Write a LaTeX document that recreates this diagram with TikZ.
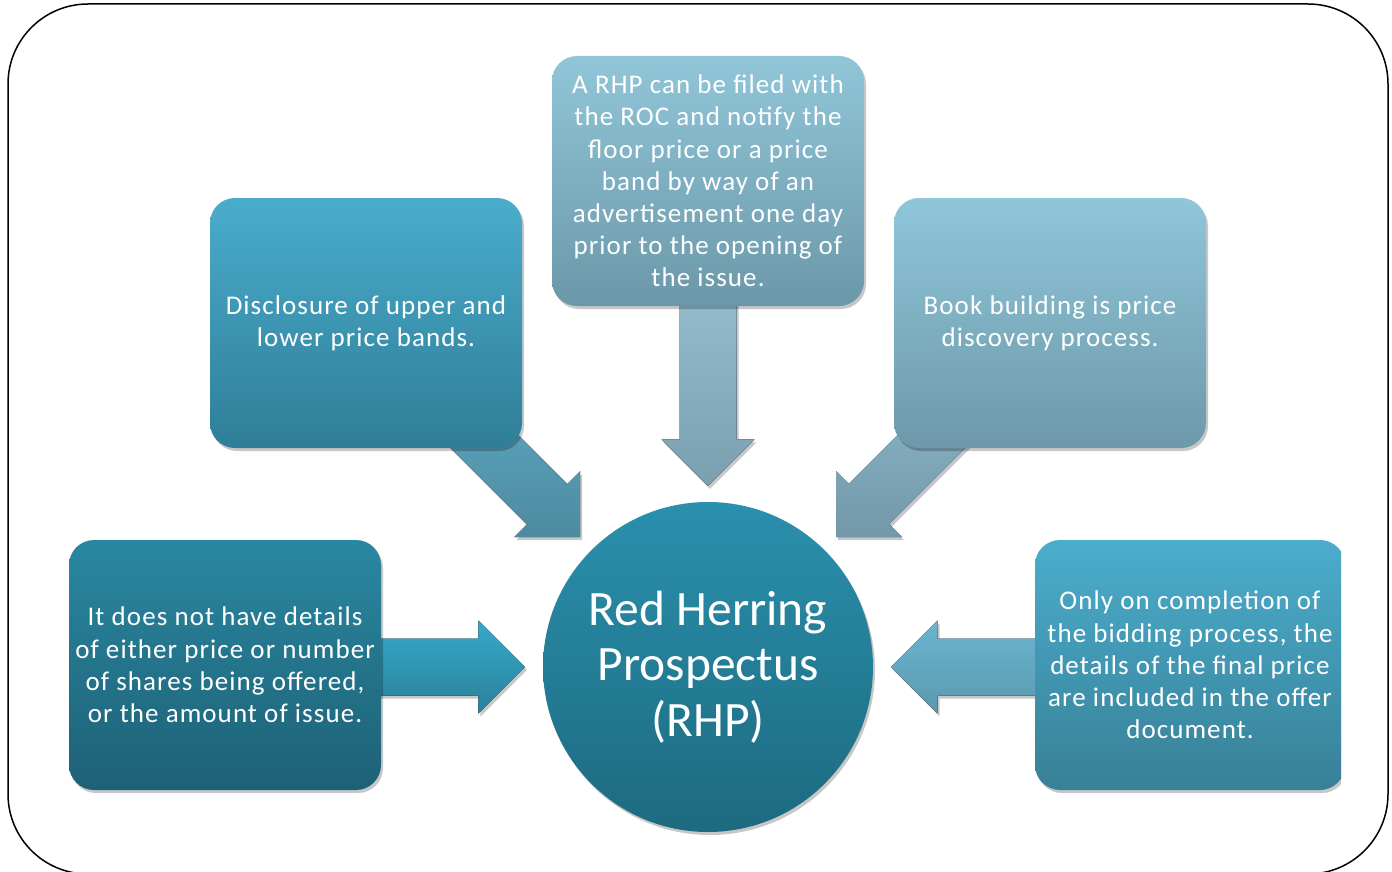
\documentclass[tikz,border=0pt]{standalone}
\usepackage{fontspec}
\setmainfont{Carlito}
\newfontfamily\boxfont[LetterSpace=4]{Carlito}
\usetikzlibrary{calc,shadows}
\pgfdeclarelayer{bg}
\pgfsetlayers{bg,main}
\definecolor{bAt}{HTML}{4AACCC}\definecolor{bAb}{HTML}{2F7E97}
\definecolor{bBt}{HTML}{90C6D8}\definecolor{bBb}{HTML}{6B98A9}
\definecolor{bCt}{HTML}{8FC6D9}\definecolor{bCb}{HTML}{6D99AA}
\definecolor{bDt}{HTML}{2A87A1}\definecolor{bDb}{HTML}{1D6176}
\definecolor{bEt}{HTML}{4BADCC}\definecolor{bEb}{HTML}{388097}
\definecolor{cT}{HTML}{2A90AD}\definecolor{cB}{HTML}{1D6A80}
\definecolor{aLt}{HTML}{35AACD}\definecolor{aLb}{HTML}{2B8099}
\definecolor{aAt}{HTML}{5BA8C2}\definecolor{aAb}{HTML}{4E8AA0}
\definecolor{aBt}{HTML}{95BDCD}\definecolor{aBb}{HTML}{7AA0B0}
\definecolor{aCt}{HTML}{8AB5C6}\definecolor{aCb}{HTML}{7398A8}
\definecolor{aRt}{HTML}{6BB6D1}\definecolor{aRb}{HTML}{5A98AE}
\newcommand\blockarrow[3]{%
  \path ($(#3)!46.5pt!(#2)$) coordinate (hb);
  \fill[#1] ($(#2)!28.5pt!90:(#3)$) -- ($(hb)!28.5pt!90:(#3)$) -- ($(hb)!46.5pt!90:(#3)$)
    -- (#3) -- ($(hb)!46.5pt!-90:(#3)$) -- ($(hb)!28.5pt!-90:(#3)$) -- ($(#2)!28.5pt!-90:(#3)$) -- cycle;}
\tikzset{
  softshadow/.style={drop shadow={shadow xshift=2pt, shadow yshift=-3pt, opacity=0.22, fill=black}},
  infobox/.style={rectangle, rounded corners=25pt, minimum width=312pt, minimum height=250pt,
    inner sep=0pt, align=center, text=white, font=\boxfont\fontsize{27}{32.2}\selectfont, softshadow},
  hub/.style={circle, minimum size=330pt, inner sep=0pt, align=center, text=white,
    top color=cT, bottom color=cB, font=\fontsize{49.5}{55.5}\selectfont, softshadow},
  frame/.style={draw=black, line width=1.5pt, rounded corners=80pt}
}
\begin{document}
\begin{tikzpicture}[x=1pt,y=-1pt]
\useasboundingbox (0,0) rectangle (1392,872);
\draw[frame] (8,4) rectangle (1388,874);

\node[hub] (rhp) at (708,667) {Red Herring\\Prospectus\\(RHP)};

\node[infobox, top color=bAt, bottom color=bAb] (b1) at (366,323) {Disclosure of upper and\\lower price bands.};
\node[infobox, top color=bBt, bottom color=bBb] (b2) at (708,181) {A RHP can be filed with\\the ROC and notify the\\floor price or a price\\band by way of an\\advertisement one day\\prior to the opening of\\the issue.};
\node[infobox, top color=bCt, bottom color=bCb] (b3) at (1050,323) {Book building is price\\discovery process.};
\node[infobox, top color=bDt, bottom color=bDb] (b4) at (225,665) {It does not have details\\of either price or number\\of shares being offered,\\or the amount of issue.};
\begin{scope}
  \clip (0,0) rectangle (1341,872);
  \node[infobox, minimum width=310pt, top color=bEt, bottom color=bEb] (b5) at (1190,665) {Only on completion of\\the bidding process, the\\details of the final price\\are included in the offer\\document.};
\end{scope}

\coordinate (tlTip) at ($(rhp)+(-128,-130)$);
\coordinate (tlTail) at ($(tlTip)+(-130,-130)$);
\coordinate (trTip) at ($(rhp)+(128,-130)$);
\coordinate (trTail) at ($(trTip)+(130,-130)$);
\coordinate (tTip) at ($(rhp.north)+(0,-16)$);
\coordinate (tTail) at ($(b2.south)+(0,-20)$);
\coordinate (lTip) at ($(rhp.west)+(-18,0)$);
\coordinate (lTail) at ($(b4.east |- rhp)+(-20,0)$);
\coordinate (rTip) at ($(rhp.east)+(18,0)$);
\coordinate (rTail) at ($(b5.west |- rhp)+(20,0)$);

\begin{pgfonlayer}{bg}
  \blockarrow{top color=aAt, bottom color=aAb, softshadow}{tlTail}{tlTip}
  \blockarrow{top color=aCt, bottom color=aCb, softshadow}{trTail}{trTip}
  \blockarrow{top color=aBt, bottom color=aBb, softshadow}{tTail}{tTip}
  \blockarrow{top color=aLt, bottom color=aLb, softshadow}{lTail}{lTip}
  \blockarrow{top color=aRt, bottom color=aRb, softshadow}{rTail}{rTip}
\end{pgfonlayer}
\end{tikzpicture}
\end{document}
